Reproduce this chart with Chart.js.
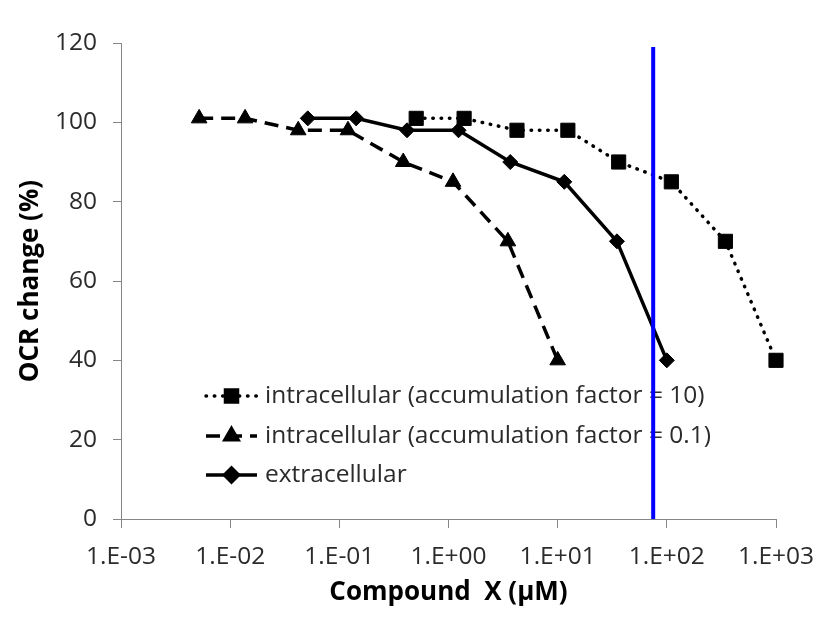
<!DOCTYPE html>
<html>
<head>
<meta charset="utf-8">
<script src="https://cdn.jsdelivr.net/npm/chart.js@4/dist/chart.umd.min.js"></script>
<style>
html,body{margin:0;padding:0;background:#ffffff;}
#wrap{width:817px;height:625px;}
</style>
</head>
<body>
<div id="wrap"><canvas id="c" width="817" height="625"></canvas></div>
<script>
// ---- data ----
const seriesNames = [
  "intracellular (accumulation factor = 10)",
  "intracellular (accumulation factor = 0.1)",
  "extracellular"
];
const xIntra10 = [0.506, 1.39, 4.24, 12.4, 36.2, 110, 344, 1000];
const yIntra10 = [101, 101, 98, 98, 90, 85, 70, 40];
const xIntra01 = [0.0052, 0.0137, 0.042, 0.12, 0.385, 1.1, 3.5, 10];
const yIntra01 = [101, 101, 98, 98, 90, 85, 70, 40];
const xExtra = [0.0514, 0.1426, 0.417, 1.236, 3.68, 11.5, 34.9, 100];
const yExtra = [101, 101, 98, 98, 90, 85, 70, 40];
const markerLineX = [75, 75];
const markerLineY = [0, 119];
const xTickValues = [0.001, 0.01, 0.1, 1, 10, 100, 1000];
const xTickLabels = ["1.E-03", "1.E-02", "1.E-01", "1.E+00", "1.E+01", "1.E+02", "1.E+03"];
const yTickValues = [0, 20, 40, 60, 80, 100, 120];
const xTitle = "Compound  X (\u00b5M)";
const yTitle = "OCR change (%)";

const pts = (xs, ys) => xs.map((x, i) => ({x: x, y: ys[i]}));

const FONT = "'Open Sans', 'Liberation Sans', sans-serif";
const AXIS = "#868686";
const TICKCOL = "#2b2b2b";

const styles = [
  {dash: [0.5, 7.8], cap: "round", point: "rect", r: 10, lr: 8.5},
  {dash: [14, 8], cap: "butt", point: "triangle", r: 9, lr: 7.5},
  {dash: [], cap: "butt", point: "rectRot", r: 7.5, lr: 7}
];

const legendPlugin = {
  id: "inlineLegend",
  beforeDatasetsDraw(chart) {
    const ctx = chart.ctx;
    const rowsY = [396, 436, 475];
    const x0 = 206, x1 = 257, tx = 265;
    ctx.save();
    seriesNames.forEach((name, i) => {
      const s = styles[i];
      const y = rowsY[i];
      ctx.beginPath();
      ctx.strokeStyle = "#000";
      ctx.lineWidth = 3.5;
      ctx.lineCap = s.cap;
      ctx.setLineDash(s.dash);
      ctx.moveTo(x0, y);
      ctx.lineTo(x1, y);
      ctx.stroke();
      ctx.setLineDash([]);
      ctx.fillStyle = "#000";
      ctx.strokeStyle = "#000";
      Chart.helpers.drawPoint(ctx, {pointStyle: s.point, radius: s.lr, rotation: 0, borderWidth: 1}, (x0 + x1) / 2, y);
      ctx.fillStyle = TICKCOL;
      ctx.font = "24.5px " + FONT;
      ctx.textAlign = "left";
      ctx.textBaseline = "middle";
      ctx.fillText(name, tx, y);
    });
    ctx.restore();
  }
};

const mkSeries = (data, i) => ({
  label: seriesNames[i],
  data: data,
  clip: false,
  borderColor: "#000000",
  backgroundColor: "#000000",
  borderWidth: 3.5,
  borderDash: styles[i].dash,
  borderCapStyle: styles[i].cap,
  pointStyle: styles[i].point,
  pointRadius: styles[i].r,
  pointHoverRadius: styles[i].r,
  pointBorderWidth: 1,
  pointBackgroundColor: "#000000",
  pointBorderColor: "#000000",
  tension: 0,
  fill: false
});

new Chart(document.getElementById("c"), {
  type: "line",
  data: {
    datasets: [
      {
        label: "marker",
        data: pts(markerLineX, markerLineY),
        clip: false,
        borderColor: "#0000FF",
        borderWidth: 4,
        pointRadius: 0,
        fill: false
      },
      mkSeries(pts(xIntra10, yIntra10), 0),
      mkSeries(pts(xIntra01, yIntra01), 1),
      mkSeries(pts(xExtra, yExtra), 2)
    ]
  },
  options: {
    responsive: false,
    animation: false,
    devicePixelRatio: 1,
    layout: {padding: {top: 43, right: 41, bottom: 0, left: 0}},
    plugins: {
      legend: {display: false},
      tooltip: {enabled: false}
    },
    scales: {
      x: {
        type: "logarithmic",
        position: "bottom",
        min: 0.001,
        max: 1000,
        afterBuildTicks: (scale) => { scale.ticks = xTickValues.map(v => ({value: v})); },
        afterFit: (scale) => { scale.height = 106; scale.paddingRight = 0; scale.paddingLeft = 0; },
        ticks: {
          autoSkip: false,
          maxRotation: 0,
          minRotation: 0,
          padding: 14,
          color: TICKCOL,
          font: {family: FONT, size: 24.5, lineHeight: 1.2},
          callback: (v, i) => xTickLabels[i]
        },
        grid: {drawOnChartArea: false, drawTicks: true, tickLength: 9, color: AXIS, lineWidth: 1},
        border: {display: true, color: AXIS, width: 1},
        title: {
          display: true,
          text: xTitle,
          color: "#000000",
          font: {family: FONT, size: 26, weight: "bold", lineHeight: 1.2},
          padding: {top: 0, bottom: 17}
        }
      },
      y: {
        type: "linear",
        min: 0,
        max: 120,
        afterBuildTicks: (scale) => { scale.ticks = yTickValues.map(v => ({value: v})); },
        afterFit: (scale) => { scale.width = 121; },
        ticks: {
          padding: 16,
          color: TICKCOL,
          font: {family: FONT, size: 24.5, lineHeight: 1.2}
        },
        grid: {drawOnChartArea: false, drawTicks: true, tickLength: 8, color: AXIS, lineWidth: 1},
        border: {display: true, color: AXIS, width: 1},
        title: {
          display: true,
          text: yTitle,
          color: "#000000",
          font: {family: FONT, size: 26, weight: "bold", lineHeight: 1.2},
          padding: {top: 15, bottom: 0}
        }
      }
    }
  },
  plugins: [legendPlugin]
});
</script>
</body>
</html>
